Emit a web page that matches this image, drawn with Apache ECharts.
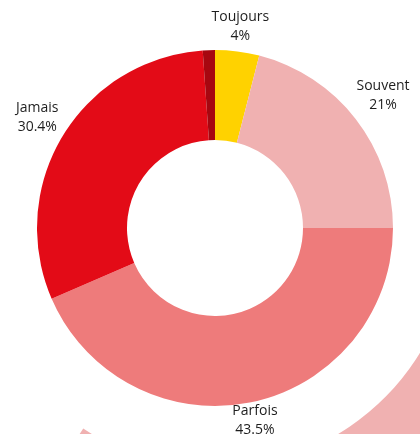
<!DOCTYPE html>
<html>
<head>
<meta charset="utf-8">
<script src="https://cdn.jsdelivr.net/npm/echarts@6/dist/echarts.min.js"></script>
<style>
  html, body { margin: 0; padding: 0; background: #fff; }
  #chart { width: 420px; height: 434px; }
</style>
</head>
<body>
<div id="chart"></div>
<script>
// reponses (%), dans l'ordre du tracé depuis midi, sens horaire
let categories = ["Toujours", "Souvent", "Parfois", "Jamais", ""];
let values = [4, 21, 43.5, 30.4, 1.1];
let colors = ["#ffd200", "#f0b1b1", "#ee7b7b", "#e30b17", "#a70710"];

let cx = 215;
let cy = 228;
let rIn = 88;
let rOut = 178;

// angle milieu de chaque part, pour placer les étiquettes
let total = values.reduce((s, v) => s + v, 0);
let midAngles = [];
let acc = 0;
values.forEach((v) => {
  let mid = 90 - ((acc + v / 2) / total) * 360;
  midAngles.push((mid * Math.PI) / 180);
  acc += v;
});

let chart = echarts.init(document.getElementById("chart"));
let option = {
  animation: false,
  series: [
    {
      // anneau décoratif en arrière-plan
      type: "pie",
      silent: true,
      z: 1,
      center: [cx, cy],
      radius: [240, 380],
      startAngle: 10,
      endAngle: -123.3,
      label: { show: false },
      labelLine: { show: false },
      itemStyle: { color: "#f0b1b1" },
      data: [{ value: 1, name: "fond" }],
    },
    {
      type: "pie",
      z: 2,
      center: [cx, cy],
      radius: [rIn, rOut],
      startAngle: 90,
      clockwise: true,
      avoidLabelOverlap: false,
      label: {
        show: true,
        position: "outside",
        formatter: "{b}\n{c}%",
        color: "#1e1e1e",
        fontFamily: "Open Sans",
        fontSize: 14,
        lineHeight: 19,
      },
      labelLine: { show: false },
      labelLayout: function (p) {
        let a = midAngles[p.dataIndex];
        let dx = Math.cos(a);
        let dy = -Math.sin(a);
        let w = p.labelRect.width;
        let h = p.labelRect.height;
        let gap = dy < 0 ? 2 : -4;
        let d = rOut + gap + (Math.abs(dx) * w) / 2 + (Math.abs(dy) * h) / 2;
        return {
          x: cx + dx * d,
          y: cy + dy * d - 3 * Math.abs(dx),
          align: "center",
          verticalAlign: "middle",
        };
      },
      data: values.map((v, i) => ({
        value: v,
        name: categories[i],
        itemStyle: { color: colors[i] },
        label: { show: categories[i] !== "" },
      })),
    },
  ],
};
option && chart.setOption(option);
</script>
</body>
</html>
